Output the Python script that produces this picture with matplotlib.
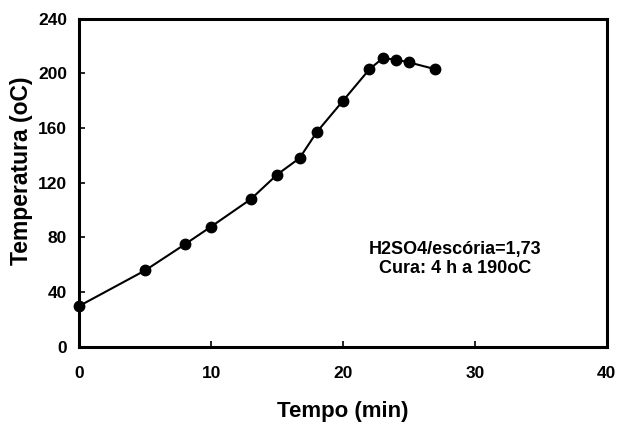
import matplotlib
matplotlib.use('Agg')
import matplotlib.pyplot as plt

# data
tempo = [0, 5, 8, 10, 13, 15, 16.7, 18, 20, 22, 23, 24, 25, 27]
temperatura = [30, 56, 75, 88, 108, 126, 138, 157, 180, 203, 211, 210, 208, 203]
xticks = [0, 10, 20, 30, 40]
yticks = [0, 40, 80, 120, 160, 200, 240]

plt.rcParams['font.family'] = ['Liberation Sans', 'DejaVu Sans']
plt.rcParams['font.weight'] = 'bold'

fig = plt.figure(figsize=(6.21, 4.23), dpi=100)
ax = fig.add_axes([0.128, 0.180, 0.849, 0.776])

ax.plot(tempo, temperatura, color='black', lw=1.5, marker='o', ms=7.5, clip_on=False)

ax.set_xlim(0, 40)
ax.set_ylim(0, 240)
ax.set_xticks(xticks)
ax.set_yticks(yticks)
ax.tick_params(direction='in', length=4, width=1.2, labelsize=12.5)
ax.tick_params(axis='x', pad=14)
ax.tick_params(axis='y', pad=9)
for s in ax.spines.values():
    s.set_linewidth(2.2)

ax.set_xlabel('Tempo (min)', fontsize=16, fontweight='bold', labelpad=14)
ax.set_ylabel('Temperatura (oC)', fontsize=16.5, fontweight='bold')
ax.yaxis.set_label_coords(-0.088, 0.535)

ax.text(28.5, 71, 'H2SO4/escória=1,73', ha='center', va='center', fontsize=13, fontweight='bold')
ax.text(28.5, 57, 'Cura: 4 h a 190oC', ha='center', va='center', fontsize=13, fontweight='bold')

fig.savefig('out.png', dpi=100)
